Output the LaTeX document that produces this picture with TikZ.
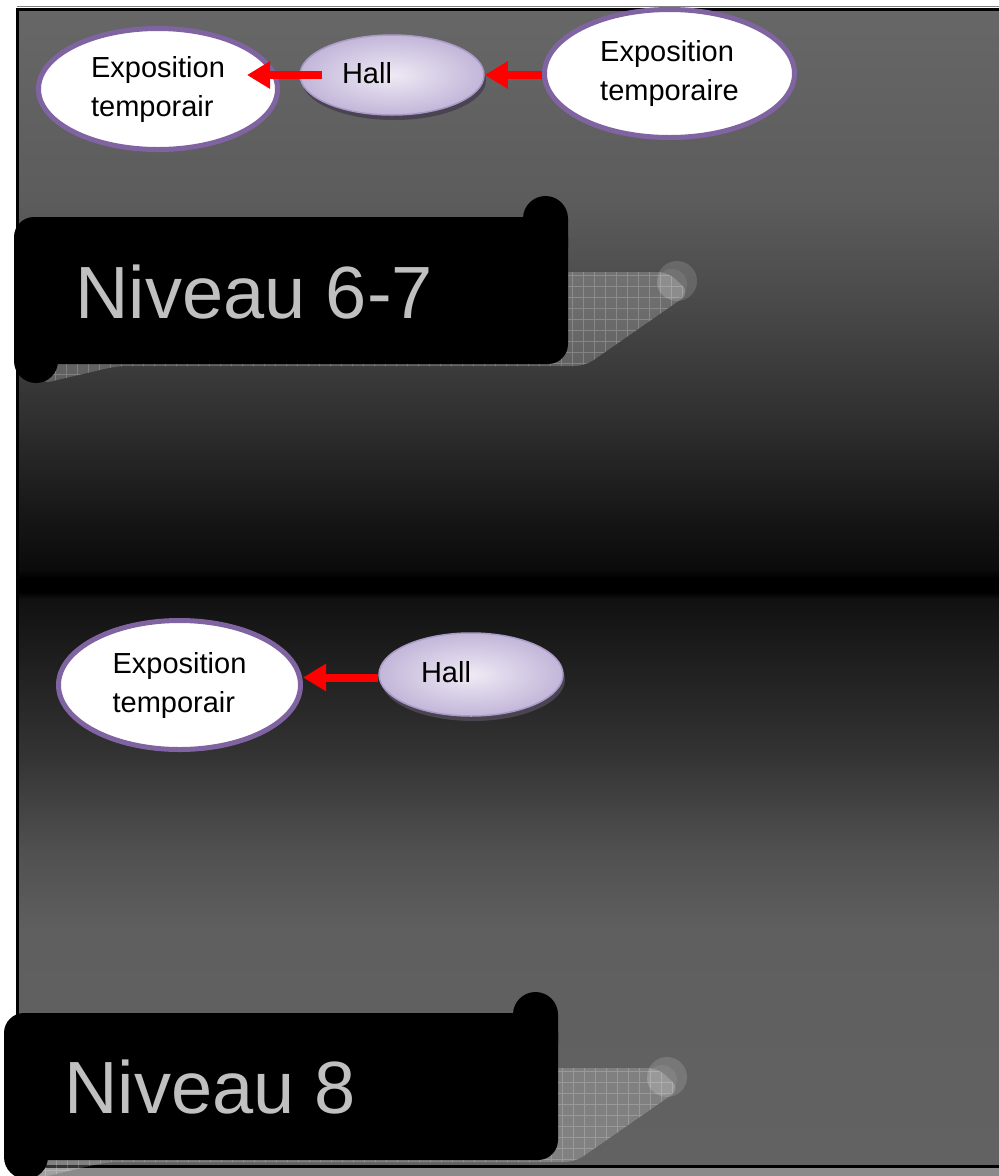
\documentclass[tikz,border=0pt]{standalone}
\usepackage{fontspec}
\setmainfont{Liberation Sans}
\usetikzlibrary{shapes.geometric,arrows.meta,calc}

% panel gradient stops
\definecolor{pg01}{HTML}{626262}
\definecolor{pg02}{HTML}{5F5F5F}
\definecolor{pg03}{HTML}{505050}
\definecolor{pg04}{HTML}{323232}
\definecolor{pg05}{HTML}{1C1C1C}
\definecolor{pg06}{HTML}{111111}
\definecolor{pg07}{HTML}{000000}
\definecolor{pg08}{HTML}{0B0B0B}
\definecolor{pg09}{HTML}{151515}
\definecolor{pg10}{HTML}{2F2F2F}
\definecolor{pg11}{HTML}{4A4A4A}
\definecolor{pg12}{HTML}{5C5C5C}
\definecolor{pg13}{HTML}{676767}

\definecolor{expoline}{HTML}{8064A2}
\definecolor{hallin}{HTML}{EEEAF5}
\definecolor{hallout}{HTML}{C3B6D9}
\definecolor{hallline}{HTML}{A99AC8}
\definecolor{hallshade}{HTML}{4A4350}
\definecolor{lvlgray}{HTML}{C0C0C0}
\definecolor{stripgray}{HTML}{8A8A8A}

\pgfdeclareverticalshading{panelshade}{100bp}{%
  color(0bp)=(pg01); color(25bp)=(pg01); color(35.2bp)=(pg02);
  color(38.7bp)=(pg03); color(43bp)=(pg04); color(47.3bp)=(pg05);
  color(49.5bp)=(pg06); color(49.8bp)=(pg07); color(50.4bp)=(pg07);
  color(50.8bp)=(pg08); color(52.9bp)=(pg09); color(57.2bp)=(pg10);
  color(62.4bp)=(pg11); color(66.7bp)=(pg12); color(75bp)=(pg13);
  color(100bp)=(pg13)}

\tikzset{
  expo/.style={ellipse, draw=expoline, line width=5pt, fill=white,
    inner sep=0pt, align=left, font=\fontsize{29}{39}\selectfont},
  hall/.style={ellipse, draw=hallline, line width=1.5pt,
    inner color=hallin, outer color=hallout, inner sep=0pt,
    minimum width=184pt, minimum height=80pt},
  hallshadow/.style={ellipse, fill=hallshade, inner sep=0pt,
    minimum width=184pt, minimum height=80pt},
  halltext/.style={inner sep=0pt, font=\fontsize{29}{35}\selectfont},
  leveltext/.style={inner sep=0pt, anchor=base west, text=lvlgray,
    font=\fontsize{74}{88}\selectfont},
  redarrow/.style={draw=red, line width=8pt,
    -{Triangle[length=23pt,width=26pt]}},
  levelbanner/.pic={
    % textured drop shadow behind the scroll
    \begin{scope}
      \clip[rounded corners=10pt] (40,384) -- (117,366) -- (585,366)
        -- (690,293) -- (668,272) -- (120,272) -- cycle;
      \fill[white, opacity=0.2] (0,255) rectangle (710,395);
      \draw[white, opacity=0.2, line width=0.7pt]
        (2,255) grid[step=11pt] (710,395);
    \end{scope}
    \fill[white, opacity=0.14] (677,281) circle[radius=20];
    \fill[white, opacity=0.08] (672,284) circle[radius=15];
    % the scroll itself
    \fill[black, rounded corners=20pt] (14,217) rectangle (568,364);
    \fill[black, rounded corners=22.5pt] (523,196) rectangle (568,270);
    \fill[black, rounded corners=22pt] (14,300) rectangle (58,383);
  }
}

\begin{document}
\begin{tikzpicture}[x=1pt, y=-1pt]
  \useasboundingbox (0,0) rectangle (999,1176);
  \fill[white] (0,0) rectangle (999,1176);

  % slide panel
  \fill[shading=panelshade] (17,8) rectangle (999,1167);
  \fill[stripgray] (17,1168) rectangle (999,1176);
  \draw[gray, line width=1pt] (17,6.5) -- (999,6.5);
  \draw[black, line width=3pt] (999,9) -- (17.5,9) -- (17.5,1166) -- (999,1166);

  % level banners
  \pic (bannerA) at (0,0) {levelbanner};
  \pic (bannerB) at (-10,796) {levelbanner};
  \node[leveltext] (lvlA) at (75,318) {Niveau 6-7};
  \node[leveltext] (lvlB) at (64,1113) {Niveau 8};

  % level 6-7
  \node[expo, minimum width=239pt, minimum height=121pt] (expoA) at (158,89)
    {Exposition\\temporair};
  \node[hallshadow] (hallAsh) at (394,80) {};
  \node[hall] (hallA) at (392,75) {};
  \node[halltext] (hallAtxt) at (367,73) {Hall};
  \node[expo, minimum width=250pt, minimum height=128pt] (expoB) at (669.5,73.5)
    {Exposition\\temporaire};

  \draw[redarrow] ($(hallA.west)+(23,0)$) -- ($(expoA.east |- hallA.west)+(-33,0)$);
  \draw[redarrow] (expoB.west |- hallA.east) -- (hallA.east);

  % level 8
  \node[expo, minimum width=242pt, minimum height=129pt] (expoC) at (179.5,685)
    {Exposition\\temporair};
  \node[hallshadow, minimum height=83pt] (hallBsh) at (473,679.5) {};
  \node[hall, minimum height=83pt] (hallB) at (471,674.5) {};
  \node[halltext] (hallBtxt) at (446,672) {Hall};

  \draw[redarrow] (hallB.west) ++(0,3) -- ($(expoC.east |- hallB.west)+(0,3)$);
\end{tikzpicture}
\end{document}
